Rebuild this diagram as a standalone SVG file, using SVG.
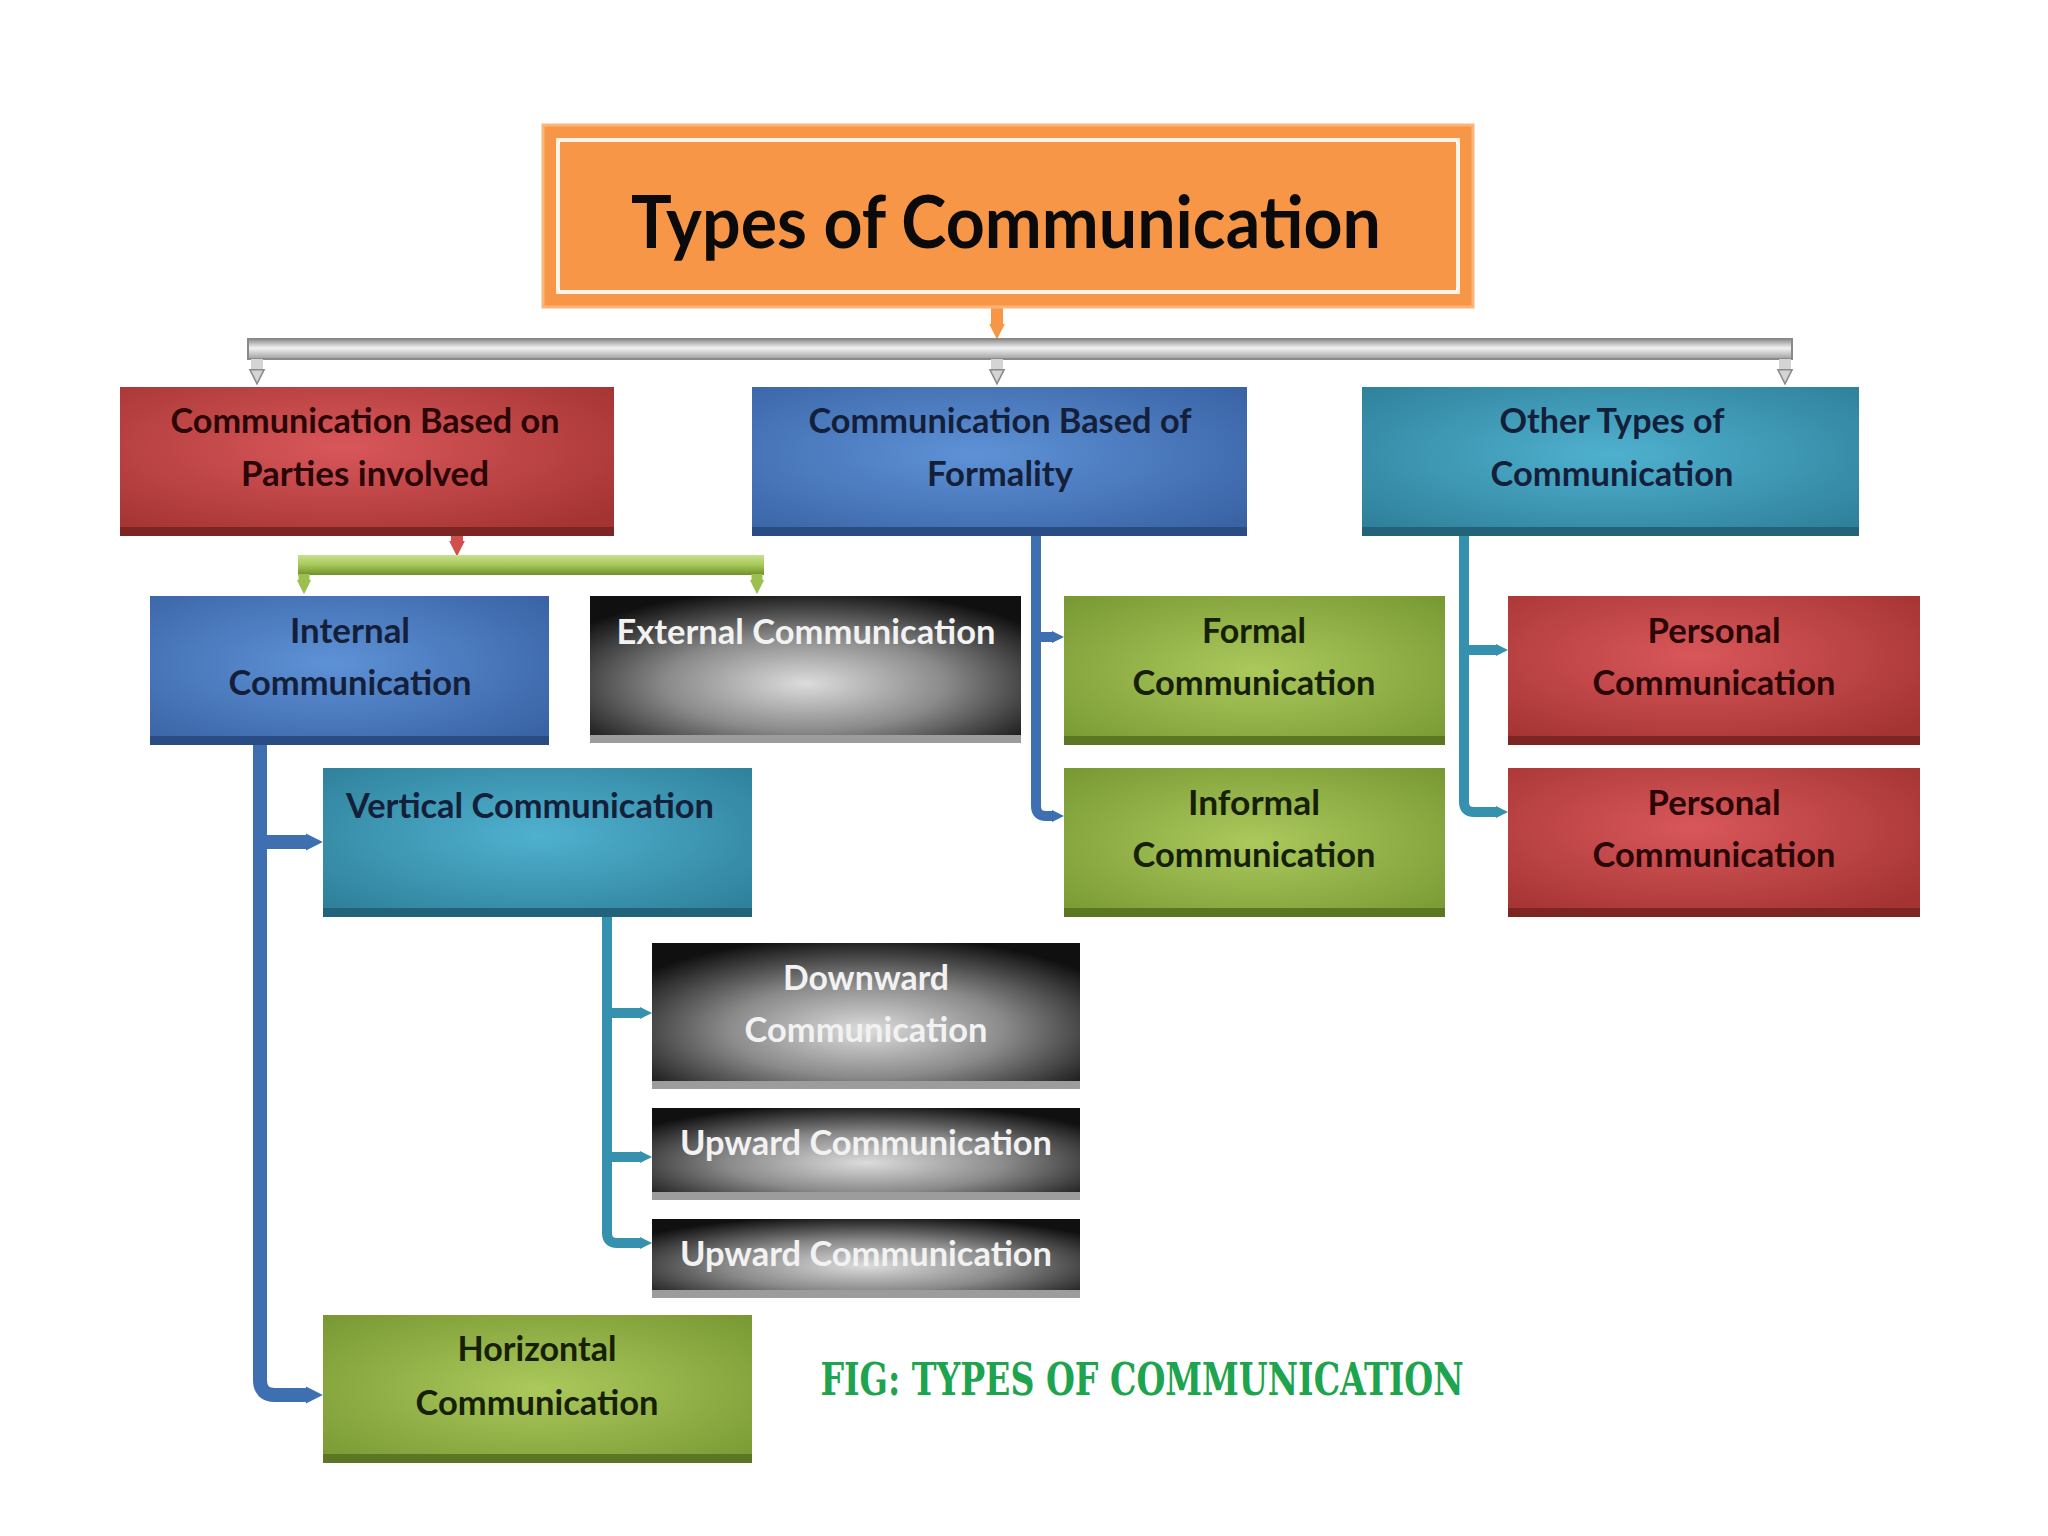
<svg xmlns="http://www.w3.org/2000/svg" width="2048" height="1536" viewBox="0 0 2048 1536">
<defs>
<radialGradient id="gRed" cx="0.45" cy="0.4" r="0.7"><stop offset="0" stop-color="#d9575a"/><stop offset="1" stop-color="#a43432"/></radialGradient>
<radialGradient id="gBlue" cx="0.45" cy="0.45" r="0.7"><stop offset="0" stop-color="#5e92d6"/><stop offset="1" stop-color="#3963a5"/></radialGradient>
<radialGradient id="gTeal" cx="0.5" cy="0.45" r="0.7"><stop offset="0" stop-color="#4fb1cf"/><stop offset="1" stop-color="#2e7f99"/></radialGradient>
<radialGradient id="gGreen" cx="0.5" cy="0.5" r="0.7"><stop offset="0" stop-color="#abc95c"/><stop offset="1" stop-color="#789833"/></radialGradient>
<radialGradient id="gBlack" cx="0.5" cy="0.6" r="0.65"><stop offset="0" stop-color="#dcdcdc"/><stop offset="0.5" stop-color="#8a8a8a"/><stop offset="1" stop-color="#101010"/></radialGradient>
<linearGradient id="gGray" x1="0" y1="0" x2="0" y2="1"><stop offset="0" stop-color="#8c8c8c"/><stop offset="0.45" stop-color="#f2f2f2"/><stop offset="1" stop-color="#a0a0a0"/></linearGradient>
<linearGradient id="gLime" x1="0" y1="0" x2="0" y2="1"><stop offset="0" stop-color="#c9e08e"/><stop offset="0.5" stop-color="#a6c85a"/><stop offset="1" stop-color="#6f9128"/></linearGradient>
<marker id="aBlue" viewBox="0 0 10 10" refX="0" refY="5" markerWidth="1.2" markerHeight="2" markerUnits="strokeWidth" orient="auto"><path d="M0,0 L10,5 L0,10 z" fill="#3e6fb0"/></marker>
<marker id="aTeal" viewBox="0 0 10 10" refX="0" refY="5" markerWidth="1.2" markerHeight="2" markerUnits="strokeWidth" orient="auto"><path d="M0,0 L10,5 L0,10 z" fill="#3591ad"/></marker>
<marker id="aGray" viewBox="0 0 10 10" refX="0" refY="5" markerWidth="1.3" markerHeight="2" markerUnits="strokeWidth" orient="auto"><path d="M0.5,0.5 L9.5,5 L0.5,9.5 z" fill="#d4d4d4" stroke="#8a8a8a" stroke-width="1"/></marker>
<marker id="aLime" viewBox="0 0 10 10" refX="0" refY="5" markerWidth="1.3" markerHeight="2" markerUnits="strokeWidth" orient="auto"><path d="M0,0 L10,5 L0,10 z" fill="#9cc04e"/></marker>
<marker id="aOrange" viewBox="0 0 10 10" refX="0" refY="5" markerWidth="1.3" markerHeight="2" markerUnits="strokeWidth" orient="auto"><path d="M0,0 L10,5 L0,10 z" fill="#f79646"/></marker>
<marker id="aRed" viewBox="0 0 10 10" refX="0" refY="5" markerWidth="1.3" markerHeight="2" markerUnits="strokeWidth" orient="auto"><path d="M0,0 L10,5 L0,10 z" fill="#d0504d"/></marker>
</defs>
<style>
text{font-family:Lato,"Liberation Sans",sans-serif;font-weight:bold;text-anchor:middle;}
.t{font-size:34px;}
.dk{fill:#14203a;}
.dr{fill:#2a0606;}
.dg{fill:#162006;}
.wt{fill:#f2f2f2;}
.red{fill:url(#gRed);}
.blue{fill:url(#gBlue);}
.teal{fill:url(#gTeal);}
.green{fill:url(#gGreen);}
.black{fill:url(#gBlack);}
.bRed{fill:#7d2523;}
.bBlue{fill:#2a4c84;}
.bTeal{fill:#226379;}
.bGreen{fill:#5c7724;}
.bBlack{fill:#9c9c9c;}
.cn{fill:none;stroke-linejoin:round;}
</style>
<rect width="2048" height="1536" fill="#ffffff"/>

<g id="connectors">
<path class="cn" d="M997,300 V324" stroke="#f79646" stroke-width="12" marker-end="url(#aOrange)"/>
<rect x="248" y="339" width="1544" height="20" fill="url(#gGray)" stroke="#8a8a8a" stroke-width="2"/>
<path class="cn" d="M257,359 V369" stroke="#d4d4d4" stroke-width="12" marker-end="url(#aGray)"/>
<path class="cn" d="M997,359 V369" stroke="#d4d4d4" stroke-width="12" marker-end="url(#aGray)"/>
<path class="cn" d="M1785,359 V369" stroke="#d4d4d4" stroke-width="12" marker-end="url(#aGray)"/>
<path class="cn" d="M457,534 V541" stroke="#d0504d" stroke-width="12" marker-end="url(#aRed)"/>
<rect x="298" y="555" width="466" height="20" fill="url(#gLime)"/>
<path class="cn" d="M304,574 V580" stroke="#9cc04e" stroke-width="11" marker-end="url(#aLime)"/>
<path class="cn" d="M757,574 V580" stroke="#9cc04e" stroke-width="11" marker-end="url(#aLime)"/>
<path class="cn" d="M260,745 V1380 Q260,1395 275,1395 H306" stroke="#3e6fb0" stroke-width="14" marker-end="url(#aBlue)"/>
<path class="cn" d="M260,842 H306" stroke="#3e6fb0" stroke-width="14" marker-end="url(#aBlue)"/>
<path class="cn" d="M1036,536 V806 Q1036,816 1046,816 H1052" stroke="#3e6fb0" stroke-width="10" marker-end="url(#aBlue)"/>
<path class="cn" d="M1036,637 H1052" stroke="#3e6fb0" stroke-width="10" marker-end="url(#aBlue)"/>
<path class="cn" d="M1464,536 V802 Q1464,812 1474,812 H1496" stroke="#3591ad" stroke-width="10" marker-end="url(#aTeal)"/>
<path class="cn" d="M1464,650 H1496" stroke="#3591ad" stroke-width="10" marker-end="url(#aTeal)"/>
<path class="cn" d="M607,917 V1233 Q607,1243 617,1243 H640" stroke="#3591ad" stroke-width="10" marker-end="url(#aTeal)"/>
<path class="cn" d="M607,1013 H640" stroke="#3591ad" stroke-width="10" marker-end="url(#aTeal)"/>
<path class="cn" d="M607,1157 H640" stroke="#3591ad" stroke-width="10" marker-end="url(#aTeal)"/>
</g>

<g id="title">
<rect x="543" y="125" width="930" height="182" fill="#f79646" stroke="#fbb57a" stroke-width="3"/>
<rect x="558" y="140" width="900" height="152" fill="none" stroke="#fdf3e6" stroke-width="4"/>
<text x="1006" y="248" font-size="72" fill="#0a0a0a" textLength="750" lengthAdjust="spacingAndGlyphs">Types of Communication</text>
</g>

<g id="parties">
<rect x="120" y="387" width="494" height="149" class="red"/>
<rect x="120" y="527" width="494" height="9" class="bRed"/>
<text class="t dr" x="365" y="433" textLength="389" lengthAdjust="spacingAndGlyphs">Communication Based on</text>
<text class="t dr" x="365" y="486" textLength="248" lengthAdjust="spacingAndGlyphs">Parties involved</text>
</g>

<g id="formality">
<rect x="752" y="387" width="495" height="149" class="blue"/>
<rect x="752" y="527" width="495" height="9" class="bBlue"/>
<text class="t dk" x="1000" y="433" textLength="383" lengthAdjust="spacingAndGlyphs">Communication Based of</text>
<text class="t dk" x="1000" y="486" textLength="146" lengthAdjust="spacingAndGlyphs">Formality</text>
</g>

<g id="other">
<rect x="1362" y="387" width="497" height="149" class="teal"/>
<rect x="1362" y="527" width="497" height="9" class="bTeal"/>
<text class="t dk" x="1612" y="433" textLength="225" lengthAdjust="spacingAndGlyphs">Other Types of</text>
<text class="t dk" x="1612" y="486" textLength="243" lengthAdjust="spacingAndGlyphs">Communication</text>
</g>

<g id="internal">
<rect x="150" y="596" width="399" height="149" class="blue"/>
<rect x="150" y="736" width="399" height="9" class="bBlue"/>
<text class="t dk" x="350" y="643" textLength="120" lengthAdjust="spacingAndGlyphs">Internal</text>
<text class="t dk" x="350" y="695" textLength="243" lengthAdjust="spacingAndGlyphs">Communication</text>
</g>

<g id="external">
<rect x="590" y="596" width="431" height="146" class="black"/>
<rect x="590" y="735" width="431" height="8" class="bBlack"/>
<text class="t wt" x="806" y="644" textLength="379" lengthAdjust="spacingAndGlyphs">External Communication</text>
</g>

<g id="formal">
<rect x="1064" y="596" width="381" height="149" class="green"/>
<rect x="1064" y="736" width="381" height="9" class="bGreen"/>
<text class="t dg" x="1254" y="643" textLength="104" lengthAdjust="spacingAndGlyphs">Formal</text>
<text class="t dg" x="1254" y="695" textLength="243" lengthAdjust="spacingAndGlyphs">Communication</text>
</g>

<g id="personal1">
<rect x="1508" y="596" width="412" height="149" class="red"/>
<rect x="1508" y="736" width="412" height="9" class="bRed"/>
<text class="t dr" x="1714" y="643" textLength="133" lengthAdjust="spacingAndGlyphs">Personal</text>
<text class="t dr" x="1714" y="695" textLength="243" lengthAdjust="spacingAndGlyphs">Communication</text>
</g>

<g id="informal">
<rect x="1064" y="768" width="381" height="149" class="green"/>
<rect x="1064" y="908" width="381" height="9" class="bGreen"/>
<text class="t dg" x="1254" y="815" textLength="132" lengthAdjust="spacingAndGlyphs">Informal</text>
<text class="t dg" x="1254" y="867" textLength="243" lengthAdjust="spacingAndGlyphs">Communication</text>
</g>

<g id="personal2">
<rect x="1508" y="768" width="412" height="149" class="red"/>
<rect x="1508" y="908" width="412" height="9" class="bRed"/>
<text class="t dr" x="1714" y="815" textLength="133" lengthAdjust="spacingAndGlyphs">Personal</text>
<text class="t dr" x="1714" y="867" textLength="243" lengthAdjust="spacingAndGlyphs">Communication</text>
</g>

<g id="vertical">
<rect x="323" y="768" width="429" height="149" class="teal"/>
<rect x="323" y="908" width="429" height="9" class="bTeal"/>
<text class="t dk" x="530" y="818" textLength="368" lengthAdjust="spacingAndGlyphs">Vertical Communication</text>
</g>

<g id="downward">
<rect x="652" y="943" width="428" height="145" class="black"/>
<rect x="652" y="1081" width="428" height="8" class="bBlack"/>
<text class="t wt" x="866" y="990" textLength="166" lengthAdjust="spacingAndGlyphs">Downward</text>
<text class="t wt" x="866" y="1042" textLength="243" lengthAdjust="spacingAndGlyphs">Communication</text>
</g>

<g id="upward1">
<rect x="652" y="1108" width="428" height="91" class="black"/>
<rect x="652" y="1192" width="428" height="8" class="bBlack"/>
<text class="t wt" x="866" y="1155" textLength="372" lengthAdjust="spacingAndGlyphs">Upward Communication</text>
</g>

<g id="upward2">
<rect x="652" y="1219" width="428" height="78" class="black"/>
<rect x="652" y="1290" width="428" height="8" class="bBlack"/>
<text class="t wt" x="866" y="1266" textLength="372" lengthAdjust="spacingAndGlyphs">Upward Communication</text>
</g>

<g id="horizontal">
<rect x="323" y="1315" width="429" height="148" class="green"/>
<rect x="323" y="1454" width="429" height="9" class="bGreen"/>
<text class="t dg" x="537" y="1361" textLength="159" lengthAdjust="spacingAndGlyphs">Horizontal</text>
<text class="t dg" x="537" y="1415" textLength="243" lengthAdjust="spacingAndGlyphs">Communication</text>
</g>

<text x="1142" y="1395" font-size="44" fill="#1ea44e" textLength="643" lengthAdjust="spacingAndGlyphs" style="font-family:'DejaVu Serif',serif;">FIG: TYPES OF COMMUNICATION</text>
</svg>
